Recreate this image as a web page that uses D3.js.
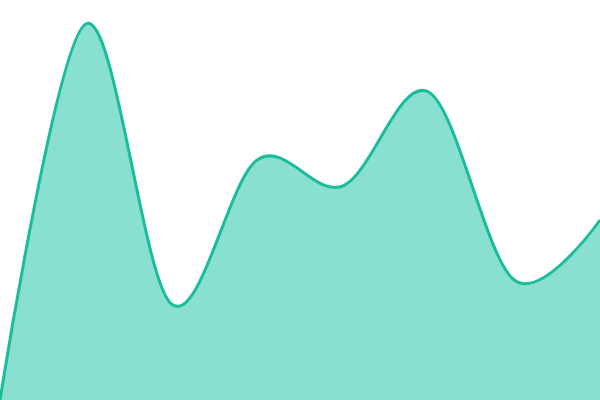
<!DOCTYPE html>
<html>
<head>
<meta charset="utf-8">
<script src="https://cdn.jsdelivr.net/npm/d3@7"></script>
<style>
  html, body { margin: 0; padding: 0; background: #fff; }
  svg { display: block; }
</style>
</head>
<body>
<svg id="chart" width="600" height="400"></svg>
<script>
// values, one per evenly spaced step
var steps = [0, 1, 2, 3, 4, 5, 6, 7];
var values = [0, 94, 24, 60, 53.5, 77, 30, 45];

var width = 600, height = 400;

var x = d3.scaleLinear().domain([0, steps.length - 1]).range([0, width]);
var y = d3.scaleLinear().domain([0, 100]).range([height, 0]);

var data = steps.map(function (s, i) { return { s: s, v: values[i] }; });

var svg = d3.select("#chart");

var area = d3.area()
    .curve(d3.curveCardinal)
    .x(function (d) { return x(d.s); })
    .y0(height)
    .y1(function (d) { return y(d.v); });

var line = d3.line()
    .curve(d3.curveCardinal)
    .x(function (d) { return x(d.s); })
    .y(function (d) { return y(d.v); });

svg.append("path")
    .datum(data)
    .attr("d", area)
    .attr("fill", "#8ae0d0");

svg.append("path")
    .datum(data)
    .attr("d", line)
    .attr("fill", "none")
    .attr("stroke", "#1abc9c")
    .attr("stroke-width", 3);
</script>
</body>
</html>
